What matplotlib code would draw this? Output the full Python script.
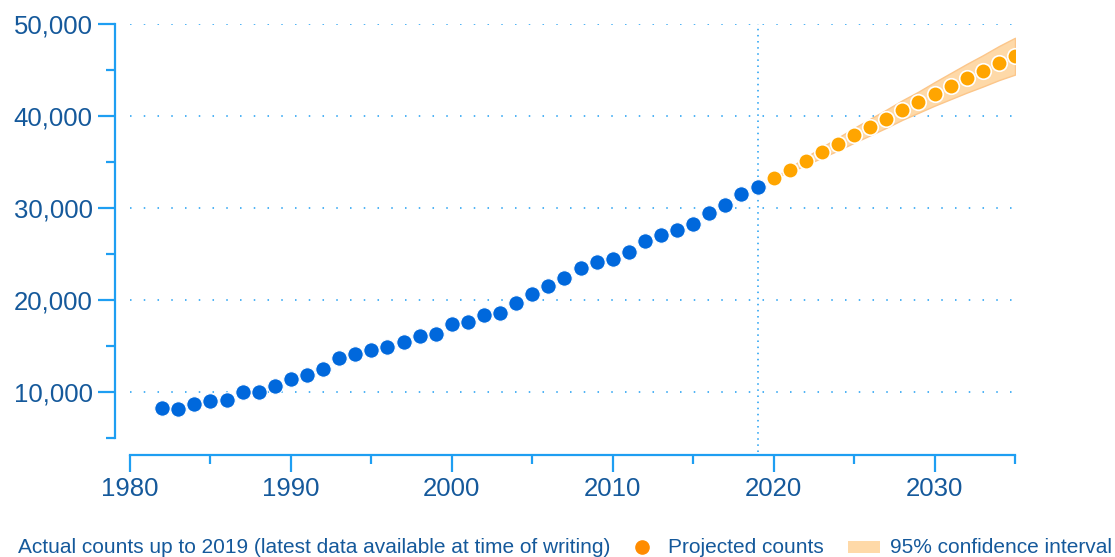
import matplotlib
matplotlib.use("Agg")
import matplotlib.pyplot as plt
from matplotlib.lines import Line2D
from matplotlib.patches import Rectangle
from matplotlib.ticker import MultipleLocator, FuncFormatter

# actual counts 1982-2019
years = list(range(1982, 2020))
counts = [8300, 8200, 8650, 9000, 9150, 10000, 10000, 10700, 11400, 11800,
          12500, 13650, 14150, 14550, 14900, 15450, 16100, 16300, 17350, 17650,
          18400, 18550, 19700, 20600, 21500, 22400, 23500, 24150, 24500, 25250,
          26450, 27050, 27600, 28250, 29450, 30300, 31500, 32300]

# projections 2020-2035 with 95% CI
proj_years = list(range(2020, 2036))
proj = [33250, 34150, 35100, 36050, 36950, 37900, 38800, 39700,
        40650, 41500, 42400, 43250, 44100, 44900, 45750, 46500]
lower = [33250, 33900, 34680, 35470, 36250, 37100, 37900, 38720,
         39590, 40350, 41120, 41830, 42540, 43200, 43900, 44500]
upper = [33250, 34400, 35520, 36630, 37650, 38700, 39700, 40680,
         41710, 42650, 43680, 44670, 45660, 46600, 47600, 48500]

legend_labels = ["Actual counts up to 2019 (latest data available at time of writing)",
                 "Projected counts", "95% confidence interval"]

blue = "#0068dc"
orange = "#ffa500"
axis_col = "#1e9ef2"
text_col = "#15599b"

plt.rcParams['font.family'] = ['Liberation Sans', 'DejaVu Sans']

W, H = 1115, 557
fig = plt.figure(figsize=(W / 100, H / 100), dpi=100)
ax = fig.add_axes([130 / W, 1 - 438 / H, (1015 - 130) / W, (438 - 24) / H])

ax.fill_between(proj_years, lower, upper, facecolor="#fed9a8", edgecolor="#fcc68a",
                linewidth=1, zorder=2)
ax.scatter(years, counts, s=125, color=blue, edgecolor="white", linewidth=0.8, zorder=3)
ax.scatter(proj_years, proj, s=125, color=orange, edgecolor="white", linewidth=1.2, zorder=3)

ax.axvline(2019, ymin=-0.035, ymax=1, color=axis_col, linestyle=(0, (1, 3)),
           linewidth=1.1, clip_on=False, zorder=1)

ax.set_xlim(1980, 2035)
ax.set_ylim(5000, 50000)
ax.xaxis.set_major_locator(MultipleLocator(10))
ax.xaxis.set_minor_locator(MultipleLocator(5))
ax.yaxis.set_major_locator(MultipleLocator(10000))
ax.yaxis.set_minor_locator(MultipleLocator(5000))
ax.yaxis.set_major_formatter(FuncFormatter(lambda v, p: f"{int(v):,}"))

ax.grid(axis='y', which='major', color=axis_col, linestyle=(0, (1, 8)), linewidth=1.1)
ax.set_axisbelow(True)

for side in ['top', 'right']:
    ax.spines[side].set_visible(False)
# offsets are in points (dpi 100 -> 0.72 pt per px)
ax.spines['left'].set_position(('outward', 10.8))
ax.spines['bottom'].set_position(('outward', 12.2))
for side in ['left', 'bottom']:
    ax.spines[side].set_color(axis_col)
    ax.spines[side].set_linewidth(1.6)

ax.tick_params(which='major', length=12, width=1.6, color=axis_col,
               labelsize=18.5, labelcolor=text_col, pad=4)
ax.tick_params(which='minor', length=6.5, width=1.6, color=axis_col)

# legend row along the bottom
ly = 1 - 553 / H
fig.text(18 / W, ly, legend_labels[0], fontsize=15, color=text_col, va='baseline')
fig.add_artist(Line2D([642 / W], [1 - 547 / H], marker='o', markersize=9.5,
                      color="#ff8c00", linestyle='none', transform=fig.transFigure))
fig.text(668 / W, ly, legend_labels[1], fontsize=15, color=text_col, va='baseline')
fig.add_artist(Rectangle((848 / W, 1 - 553 / H), 32 / W, 12 / H, transform=fig.transFigure,
                         facecolor="#fed9a8", edgecolor='none'))
fig.text(890 / W, ly, legend_labels[2], fontsize=15, color=text_col, va='baseline')

fig.savefig("out.png", dpi=100)
